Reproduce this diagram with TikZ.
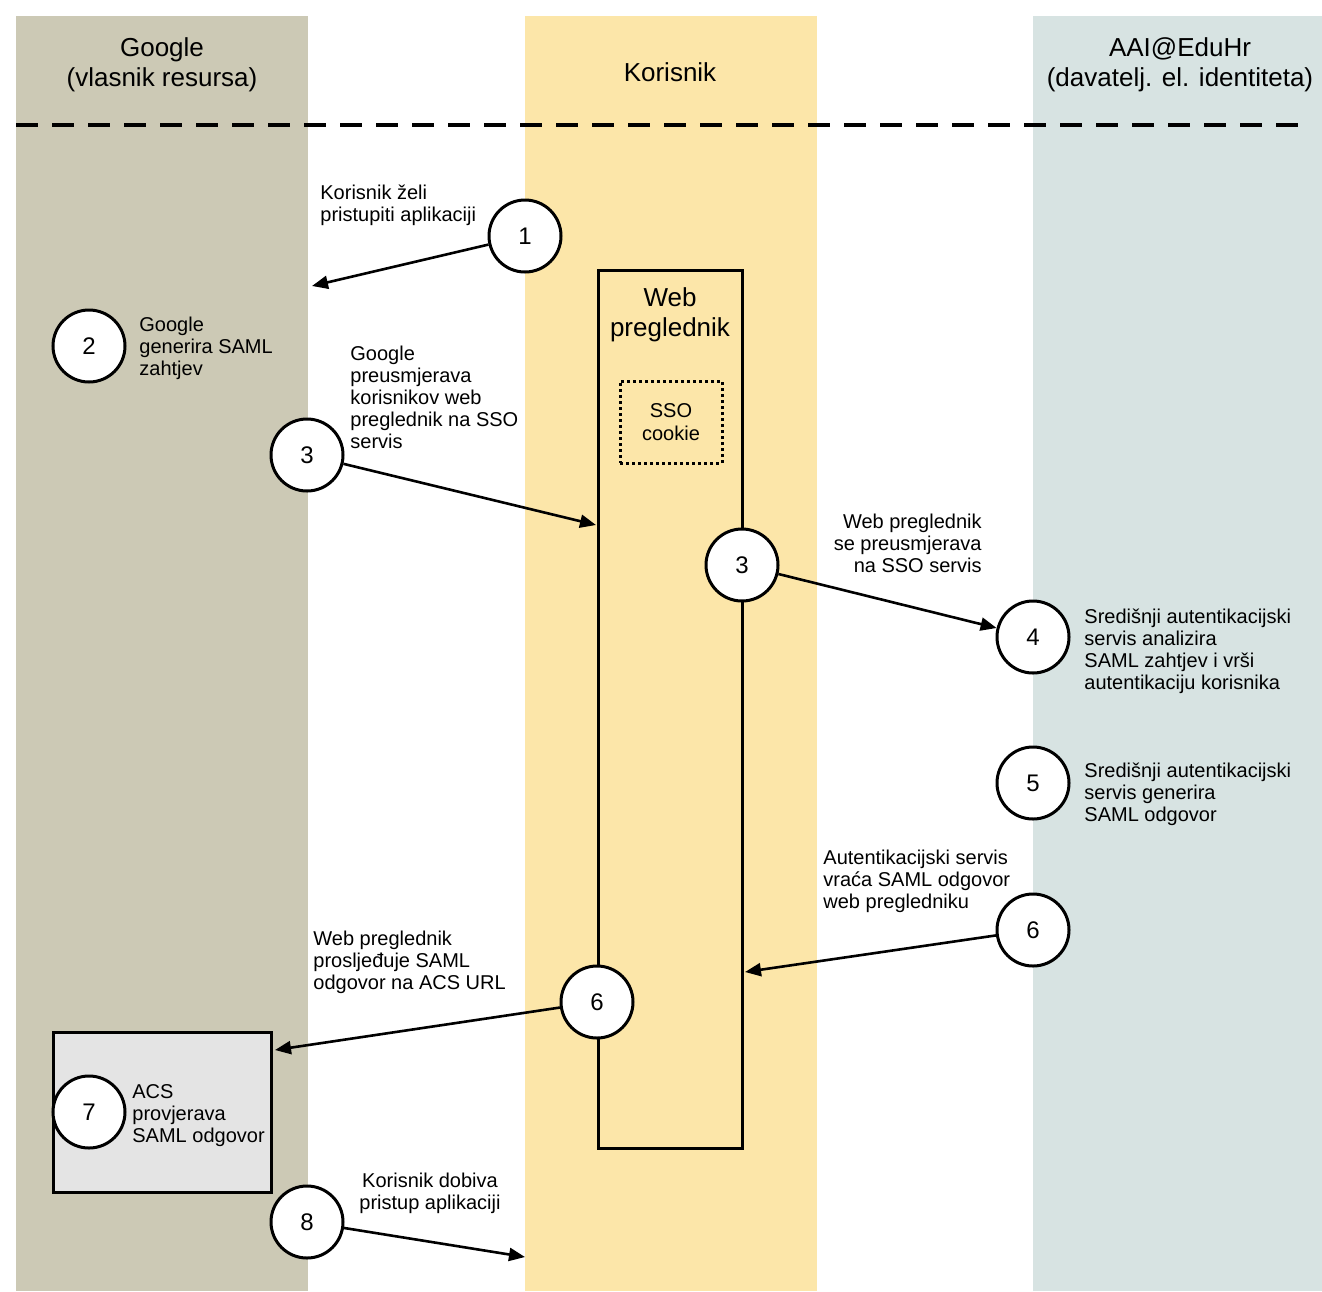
\documentclass[tikz,border=0pt]{standalone}
\usepackage{fontspec}
\setmainfont{Liberation Sans}
\usetikzlibrary{arrows.meta}
\definecolor{googlebg}{HTML}{CCC9B5}
\definecolor{userbg}{HTML}{FCE6A9}
\definecolor{aaibg}{HTML}{D7E3E2}
\definecolor{acsbg}{HTML}{E4E4E4}
\begin{document}
\begin{tikzpicture}[x=0.5pt,y=-0.5pt,
  num/.style={circle,draw,line width=1.5pt,fill=white,minimum size=36pt,inner sep=0pt,font=\fontsize{12}{14}\selectfont},
  lbl/.style={align=left,font=\fontsize{10}{11}\selectfont,inner sep=0pt},
  hdr/.style={align=center,font=\fontsize{13}{15}\selectfont,inner sep=0pt},
  arr/.style={-{Triangle[length=8pt,width=6.5pt]},line width=1.3pt}]
\useasboundingbox (0,0) rectangle (1322,1291);
% lanes
\fill[googlebg] (16,16) rectangle (308,1291);
\fill[userbg] (525,16) rectangle (817,1291);
\fill[aaibg] (1033,16) rectangle (1322,1291);
% headers
\node[hdr] (hg) at (162,65) {Google\\(vlasnik resursa)};
\node[hdr] (hk) at (670,72) {Korisnik};
\node[hdr] (ha) at (1180,65) {AAI@EduHr\\(davatelj. el. identiteta)};
\draw[line width=2pt,dash pattern=on 11pt off 7pt] (16,125) -- (1312,125);
% web browser
\node[draw,line width=1.5pt,minimum width=72pt,minimum height=439pt,inner sep=0pt] (web) at (670,709) {};
\node[hdr] (webt) at (670,315) {Web\\preglednik};
\node[draw,line width=1.5pt,dash pattern=on 1.5pt off 1.5pt,minimum width=51pt,minimum height=41pt,inner sep=0pt,align=center,font=\fontsize{10}{11.5}\selectfont] (sso) at (671,422) {SSO\\cookie};
% ACS box
\node[draw,fill=acsbg,line width=1.5pt,minimum width=109pt,minimum height=80pt,inner sep=0pt] (acs) at (162,1112) {};
% circles
\node[num] (c1) at (525,236) {1};
\node[num] (c2) at (89,346) {2};
\node[num] (c3a) at (307,455) {3};
\node[num] (c3b) at (742,565) {3};
\node[num] (c4) at (1033,637) {4};
\node[num] (c5) at (1033,783) {5};
\node[num] (c6a) at (1033,930) {6};
\node[num] (c6b) at (597,1002) {6};
\node[num] (c7) at (89,1112) {7};
\node[num] (c8) at (307,1222) {8};
% labels
\node[lbl,anchor=north west] (l1) at (320,185) {Korisnik želi\\pristupiti aplikaciji};
\node[lbl,anchor=north west] (l2) at (139,317) {Google\\generira SAML\\zahtjev};
\node[lbl,anchor=north west] (l3) at (350,346) {Google\\preusmjerava\\korisnikov web\\preglednik na SSO\\servis};
\node[lbl,anchor=north east,align=right] (l4) at (982,514) {Web preglednik\\se preusmjerava\\na SSO servis};
\node[lbl,anchor=north west] (l5) at (1084,609) {Središnji autentikacijski\\servis analizira\\SAML zahtjev i vrši\\autentikaciju korisnika};
\node[lbl,anchor=north west] (l6) at (1084,763) {Središnji autentikacijski\\servis generira\\SAML odgovor};
\node[lbl,anchor=north west] (l7) at (823,850) {Autentikacijski servis\\vraća SAML odgovor\\web pregledniku};
\node[lbl,anchor=north west] (l8) at (313,931) {Web preglednik\\prosljeđuje SAML\\odgovor na ACS URL};
\node[lbl,anchor=north west] (l9) at (132,1084) {ACS\\provjerava\\SAML odgovor};
\node[lbl,anchor=north,align=center] (l10) at (430,1173) {Korisnik dobiva\\pristup aplikaciji};
% arrow ends
\coordinate (e1) at (312,286);
\coordinate (e2) at (596,525);
\coordinate (e4) at (745,972);
\coordinate (e5) at (275,1050);
\coordinate (e6) at (525,1257);
\draw[arr] (c1) -- (e1);
\draw[arr] (c3a) -- (e2);
\draw[arr] (c3b) -- (c4);
\draw[arr] (c6a) -- (e4);
\draw[arr] (c6b) -- (e5);
\draw[arr] (c8) -- (e6);
\end{tikzpicture}
\end{document}
